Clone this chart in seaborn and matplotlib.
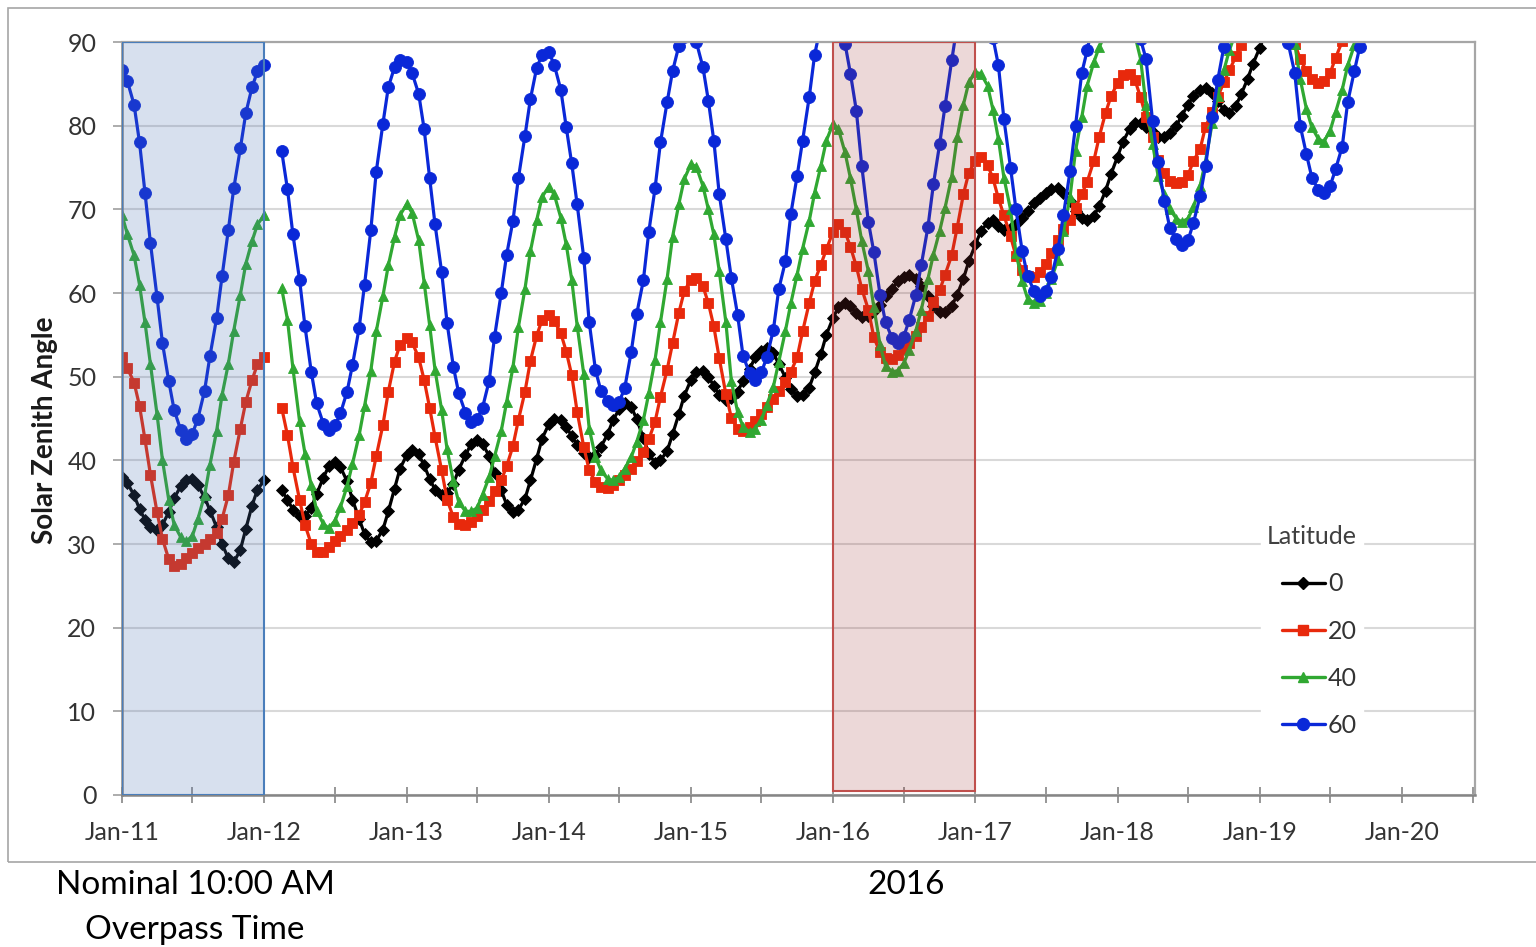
import pandas as pd
import matplotlib
matplotlib.use("Agg")
import matplotlib.pyplot as plt
import matplotlib.dates as mdates
from matplotlib.patches import Rectangle
from matplotlib.lines import Line2D
import seaborn as sns

# ---------------- data ----------------
latitudes = ["0", "20", "40", "60"]
dates_2011 = pd.date_range("2011-01-01", periods=25, freq="SMS")      # first satellite year
dates_later = pd.date_range("2012-02-15", periods=183, freq="SMS")    # Feb-2012 .. Sep-2019

lat0_2011 = [38.0, 37.3, 35.8, 34.2, 32.9, 32.0, 31.7, 32.3, 33.8, 35.5, 36.9, 37.7, 37.8,
             37.0, 35.6, 34.0, 32.0, 30.0, 28.3, 27.8, 29.3, 31.8, 34.6, 36.5, 37.6]
lat0_later = [36.4, 35.3, 34.1, 33.4, 33.3, 34.3, 36.0, 37.9, 39.3, 39.8,
              39.2, 37.5, 35.3, 33.0, 31.2, 30.2, 30.4, 31.7, 33.9, 36.6,
              39.0, 40.6, 41.2, 40.7, 39.4, 37.8, 36.5, 35.8, 36.1, 37.2,
              38.9, 40.6, 41.9, 42.4, 42.0, 40.5, 38.5, 36.4, 34.7, 33.8,
              34.1, 35.4, 37.6, 40.2, 42.6, 44.3, 45.0, 44.8, 44.0, 42.9,
              41.8, 40.9, 40.4, 40.6, 41.6, 43.1, 44.8, 46.1, 46.8, 46.4,
              44.9, 42.7, 40.8, 39.7, 40.0, 41.1, 43.1, 45.5, 47.7, 49.6,
              50.6, 50.7, 50.0, 48.9, 47.8, 47.2, 47.4, 48.2, 49.5, 50.9,
              52.3, 53.1, 53.4, 52.8, 51.5, 49.9, 48.5, 47.7, 47.8, 48.7,
              50.5, 52.7, 55.0, 57.0, 58.3, 58.8, 58.4, 57.6, 57.1, 57.3,
              57.8, 58.6, 59.6, 60.5, 61.4, 61.9, 62.1, 61.7, 60.8, 59.6,
              58.4, 57.7, 57.7, 58.4, 59.8, 61.7, 63.8, 65.8, 67.4, 68.4,
              68.7, 68.0, 67.5, 67.8, 68.3, 69.0, 69.8, 70.7, 71.4, 72.0,
              72.4, 72.5, 72.0, 71.0, 69.8, 69.0, 68.7, 69.2, 70.4, 72.2,
              74.2, 76.3, 78.1, 79.6, 80.3, 80.3, 79.9, 79.2, 78.7, 78.6,
              79.1, 80.0, 81.2, 82.5, 83.6, 84.3, 84.5, 83.9, 82.9, 81.9,
              81.5, 82.4, 83.8, 85.6, 87.4, 89.3, 91.0, 92.0, 92.8, 93.2,
              93.3, 93.3, 93.6, 94.3, 95.3, 96.5, 97.6, 98.5, 99.0, 99.2,
              99.3, 99.5, 100.0]

lat20_2011 = [52.4, 51.0, 49.3, 46.5, 42.5, 38.3, 33.8, 30.6, 28.2, 27.4, 27.6, 28.3, 28.9,
              29.5, 30.0, 30.6, 31.3, 33.0, 35.8, 39.8, 43.8, 47.0, 49.6, 51.5, 52.4]
lat20_later = [46.3, 43.0, 39.2, 35.3, 32.3, 30.0, 29.1, 29.1, 29.6, 30.3,
               31.0, 31.7, 32.5, 33.5, 35.0, 37.3, 40.5, 44.2, 48.2, 51.8,
               53.8, 54.6, 54.1, 52.3, 49.6, 46.3, 42.8, 38.8, 35.3, 33.2,
               32.4, 32.3, 32.6, 33.3, 34.1, 35.1, 36.3, 37.6, 39.3, 41.7,
               44.8, 48.2, 51.9, 54.9, 56.8, 57.4, 56.7, 55.2, 53.0, 50.2,
               45.8, 41.6, 38.8, 37.4, 36.8, 36.7, 37.0, 37.6, 38.3, 39.0,
               39.9, 41.0, 42.5, 44.6, 47.6, 50.8, 54.0, 57.6, 60.2, 61.6,
               61.8, 60.8, 58.8, 56.0, 52.2, 47.9, 45.1, 43.8, 43.5, 44.0,
               44.7, 45.5, 46.4, 47.3, 48.3, 49.4, 50.6, 52.3, 55.4, 58.8,
               61.4, 63.4, 65.2, 67.3, 68.3, 67.3, 65.5, 63.2, 60.5, 58.0,
               54.7, 52.9, 52.2, 52.1, 52.6, 53.3, 54.0, 54.9, 55.9, 57.2,
               58.9, 60.3, 62.2, 64.5, 67.8, 71.8, 74.4, 75.8, 76.2, 75.3,
               73.7, 71.3, 69.3, 66.8, 64.4, 62.7, 62.0, 61.9, 62.5, 63.5,
               64.8, 66.3, 67.6, 68.7, 70.2, 71.8, 73.3, 75.8, 78.7, 81.5,
               83.5, 85.1, 86.0, 86.2, 85.4, 83.4, 81.0, 78.7, 75.9, 74.3,
               73.4, 73.1, 73.3, 74.1, 75.8, 77.2, 79.9, 81.6, 83.4, 85.2,
               86.6, 88.3, 89.7, 91.3, 92.5, 93.2, 93.4, 93.2, 92.6, 91.9,
               91.0, 89.8, 88.0, 86.5, 85.6, 85.1, 85.3, 86.3, 88.1, 90.1,
               92.2, 94.0, 95.5]

lat40_2011 = [69.3, 67.0, 64.5, 61.0, 56.5, 51.5, 45.5, 40.0, 35.3, 32.3, 30.8, 30.3, 31.0,
              33.0, 35.8, 39.5, 43.5, 47.8, 51.5, 55.5, 59.8, 63.5, 66.2, 68.2, 69.3]
lat40_later = [60.6, 56.8, 51.0, 44.7, 40.8, 37.0, 34.0, 32.4, 31.9, 32.8,
               34.4, 36.9, 39.6, 43.0, 46.5, 50.7, 55.4, 59.6, 63.3, 66.7,
               69.3, 70.6, 69.6, 66.3, 61.2, 56.2, 50.8, 46.0, 41.3, 37.5,
               35.0, 33.9, 33.9, 34.3, 35.9, 38.0, 40.5, 43.5, 47.0, 51.1,
               55.9, 60.5, 65.0, 68.7, 71.5, 72.7, 71.8, 69.0, 65.8, 61.6,
               56.1, 50.3, 43.8, 40.4, 38.8, 37.8, 37.6, 38.0, 39.0, 40.4,
               42.2, 44.8, 48.0, 52.0, 56.5, 61.7, 66.7, 70.6, 73.6, 75.4,
               75.1, 72.8, 70.0, 67.0, 62.6, 56.5, 49.5, 45.8, 44.0, 43.4,
               43.8, 44.8, 46.6, 48.8, 51.8, 55.5, 58.8, 62.2, 65.3, 68.6,
               72.0, 75.2, 78.2, 80.2, 79.6, 76.8, 73.7, 70.0, 66.2, 62.6,
               58.3, 53.8, 51.3, 50.6, 50.7, 51.6, 53.2, 55.5, 58.0, 61.7,
               64.6, 67.4, 70.2, 73.9, 78.6, 82.5, 85.2, 86.4, 86.2, 84.8,
               81.9, 78.4, 73.8, 70.0, 64.8, 61.4, 59.3, 58.8, 59.1, 60.0,
               61.7, 64.0, 67.4, 71.5, 77.0, 81.0, 84.8, 87.6, 89.4, 91.0,
               92.2, 92.8, 92.6, 91.9, 90.7, 88.0, 82.5, 77.8, 74.0, 71.8,
               70.0, 68.9, 68.5, 68.9, 70.3, 72.8, 75.8, 80.3, 83.6, 86.6,
               89.0, 91.2, 93.0, 94.5, 95.3, 95.5, 95.1, 94.6, 93.5, 92.3,
               91.0, 89.8, 85.6, 82.0, 79.8, 78.4, 78.1, 79.4, 81.6, 84.3,
               87.2, 89.6, 92.0]

lat60_2011 = [86.6, 85.3, 82.5, 78.0, 72.0, 66.0, 59.5, 54.0, 49.5, 46.0, 43.6, 42.6, 43.2,
              45.0, 48.3, 52.5, 57.0, 62.0, 67.5, 72.5, 77.3, 81.5, 84.6, 86.5, 87.3]
lat60_later = [77.0, 72.4, 67.0, 61.6, 56.0, 50.6, 46.8, 44.4, 43.6, 44.2,
               45.6, 48.2, 51.4, 55.8, 61.0, 67.5, 74.5, 80.2, 84.6, 87.0,
               87.8, 87.6, 86.3, 83.8, 79.6, 73.8, 68.2, 62.5, 56.4, 51.2,
               48.0, 45.7, 44.6, 44.9, 46.3, 49.5, 54.8, 60.0, 64.6, 68.6,
               73.7, 78.8, 83.2, 86.9, 88.5, 88.8, 87.3, 84.3, 79.8, 75.5,
               70.6, 64.2, 56.5, 50.8, 48.3, 47.1, 46.6, 47.0, 48.6, 53.0,
               57.5, 61.5, 67.3, 72.5, 78.0, 82.8, 86.5, 89.5, 90.6, 90.8,
               90.0, 87.0, 83.0, 78.2, 71.8, 66.4, 61.8, 57.4, 52.5, 50.4,
               49.6, 50.5, 52.3, 55.6, 60.5, 63.8, 69.5, 74.0, 78.2, 83.4,
               88.5, 92.0, 94.2, 95.0, 94.0, 89.8, 86.2, 81.8, 75.2, 68.5,
               64.9, 59.8, 56.5, 54.6, 54.0, 54.8, 56.8, 59.8, 63.4, 67.9,
               73.0, 77.8, 82.4, 87.8, 92.0, 95.5, 97.5, 98.0, 97.0, 94.5,
               90.5, 87.2, 80.8, 75.0, 70.0, 65.0, 62.0, 60.2, 59.6, 60.2,
               61.9, 65.2, 69.3, 74.6, 80.0, 86.3, 89.0, 93.0, 96.0, 98.5,
               100.0, 100.5, 100.0, 98.0, 94.5, 90.3, 88.0, 80.5, 75.6, 71.0,
               67.8, 66.4, 65.7, 66.3, 68.4, 71.6, 75.2, 81.0, 85.4, 89.4,
               93.5, 97.0, 100.0, 102.0, 103.0, 103.0, 102.0, 100.0, 97.0, 93.5,
               89.9, 86.3, 80.0, 76.6, 73.8, 72.3, 71.9, 72.8, 74.8, 77.5,
               82.8, 86.5, 89.4]

y_ticks = list(range(0, 100, 10))

# ---------------- styling ----------------
colors = {"0": "#000000", "20": "#E8290C", "40": "#30A832", "60": "#0A28D8"}
markers = {"0": "D", "20": "s", "40": "^", "60": "o"}
marker_sizes = {"D": 5.8, "s": 7.6, "^": 7.8, "o": 8.6}

sns.set_theme(style="white")
plt.rcParams["font.family"] = ["Lato", "DejaVu Sans"]

series = {"0": (lat0_2011, lat0_later), "20": (lat20_2011, lat20_later),
          "40": (lat40_2011, lat40_later), "60": (lat60_2011, lat60_later)}
frames = []
for lat, (first, later) in series.items():
    frames.append(pd.DataFrame({"date": dates_2011, "sza": first, "Latitude": lat, "seg": 1}))
    frames.append(pd.DataFrame({"date": dates_later, "sza": later, "Latitude": lat, "seg": 2}))
df = pd.concat(frames, ignore_index=True)

fig = plt.figure(figsize=(15.36, 9.47), dpi=100)
ax = fig.add_axes([122 / 1536, 1 - 795 / 947, (1475 - 122) / 1536, (795 - 42) / 947])

sns.lineplot(data=df, x="date", y="sza", hue="Latitude", style="Latitude", units="seg",
             estimator=None, hue_order=latitudes, style_order=latitudes, palette=colors,
             markers=markers, dashes=False, linewidth=2.3, legend=False, ax=ax)

for ln in ax.lines:
    c = ln.get_color()
    m = ln.get_marker()
    ln.set_markersize(marker_sizes.get(m, 6))
    ln.set_markerfacecolor(c)
    ln.set_markeredgecolor(c)
    ln.set_markeredgewidth(0.6)
    ln.set_zorder(2)

# highlighted years (semi-transparent overlays)
ax.axvspan(pd.Timestamp("2011-01-01"), pd.Timestamp("2012-01-01"), ymin=0.0, ymax=1.0,
           facecolor=(0.30, 0.45, 0.70, 0.22), edgecolor="#4A7EBB", linewidth=1.5, zorder=3)
ax.axvspan(pd.Timestamp("2016-01-01"), pd.Timestamp("2017-01-01"), ymin=0.005, ymax=1.0,
           facecolor=(0.62, 0.20, 0.20, 0.19), edgecolor="#C0504D", linewidth=1.5, zorder=3)

ax.set_ylim(0, 90)
ax.set_xlim(pd.Timestamp("2011-01-01"), pd.Timestamp("2020-07-07"))
ax.set_yticks(y_ticks)
ax.xaxis.set_major_locator(mdates.YearLocator())
ax.xaxis.set_minor_locator(mdates.MonthLocator(bymonth=[7]))
ax.xaxis.set_major_formatter(mdates.DateFormatter("%b-%y"))

ax.set_axisbelow(True)
ax.yaxis.grid(True, color="#D9D9D9", linewidth=1.5)
ax.xaxis.grid(False)

for side in ["left", "bottom"]:
    ax.spines[side].set_color("#858585")
    ax.spines[side].set_linewidth(1.8)
for side in ["top", "right"]:
    ax.spines[side].set_color("#A6A6A6")
    ax.spines[side].set_linewidth(1.6)

ax.tick_params(axis="x", which="both", direction="inout", length=11, width=1.2,
               color="#858585", pad=13.5, labelsize=18, labelcolor="#333333", bottom=True)
ax.tick_params(axis="y", direction="out", length=6.5, width=1.3, color="#A6A6A6",
               pad=12, labelsize=18, labelcolor="#333333", left=True)

ax.set_xlabel("")
ax.set_ylabel("Solar Zenith Angle", fontsize=20, fontweight="bold", color="#1A1A1A")
ax.yaxis.set_label_coords(-0.047, 0.485)

handles = [Line2D([0], [0], color=colors[l], marker=markers[l], markersize=marker_sizes[markers[l]],
                  markerfacecolor=colors[l], markeredgecolor=colors[l], linewidth=2.4)
           for l in latitudes]
leg = ax.legend(handles, latitudes, title="Latitude", loc="center",
                bbox_to_anchor=(0.8795, 0.2175), fontsize=18, title_fontsize=18,
                frameon=True, facecolor="white", edgecolor="white", framealpha=1,
                fancybox=False, handlelength=1.75, handletextpad=0.1,
                labelspacing=0.97, borderpad=0.25, numpoints=1, alignment="right")
leg.get_title().set_color("#404040")
for t in leg.get_texts():
    t.set_color("#333333")

# outer chart border
fig.add_artist(Rectangle((8 / 1536, 1 - 862 / 947), 1.0, (862 - 8) / 947,
                         transform=fig.transFigure, fill=False, edgecolor="#A6A6A6",
                         linewidth=1.2))

fig.text(195 / 1536, 1 - 885 / 947, "Nominal 10:00 AM", ha="center", va="center",
         fontsize=24, color="black")
fig.text(195 / 1536, 1 - 930 / 947, "Overpass Time", ha="center", va="center",
         fontsize=24, color="black")
fig.text(906 / 1536, 1 - 885 / 947, "2016", ha="center", va="center",
         fontsize=24, color="black")

fig.savefig("out.png", dpi=100)
